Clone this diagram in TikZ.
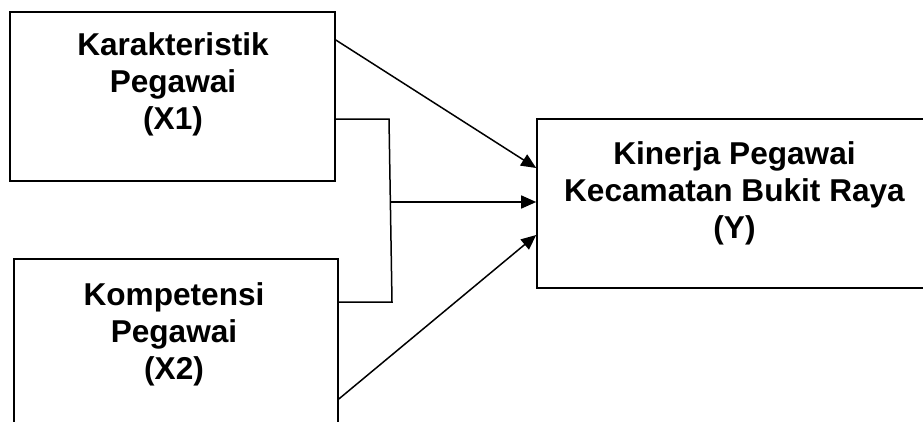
\documentclass[tikz,border=0pt]{standalone}
\usepackage{fontspec}
\setmainfont{Liberation Sans}
\usetikzlibrary{arrows.meta}
\tikzset{
  box/.style={draw, line width=1.6pt, inner sep=0pt, minimum height=169pt},
  lbl/.style={align=center, anchor=north, inner sep=0pt, font=\fontsize{31.6}{37}\selectfont\bfseries},
  conn/.style={line width=1.5pt},
  arr/.style={line width=1.5pt, -{Triangle[length=15pt,width=13pt]}}
}
\begin{document}
\begin{tikzpicture}[x=1pt,y=-1pt]
\useasboundingbox (0,0) rectangle (923,421);
\clip (0,0) rectangle (923,421);
\fill[white] (0,0) rectangle (923,421);
% boxes
\node[box, minimum width=325pt] (x1) at (172.5,96.5) {};
\node[box, minimum width=324pt] (x2) at (176,343.5) {};
\node[box, minimum width=394pt] (y) at (734,203.5) {};
% labels
\node[lbl] (t1) at (173,32.5) {Karakteristik\\Pegawai\\(X1)};
\node[lbl] (t2) at (174,282.5) {Kompetensi\\Pegawai\\(X2)};
\node[lbl] (ty) at (734.5,141.5) {Kinerja Pegawai\\Kecamatan Bukit Raya\\(Y)};
% connectors
\coordinate (bt) at (389,119);
\coordinate (bb) at (392,302);
\coordinate (bm) at (390.4,202);
\draw[arr] ([yshift=56.5pt]x1.east) -- ([yshift=35.5pt]y.west);
\draw[conn] ([yshift=-22.5pt]x1.east) -- (bt) -- (bb) -- ([yshift=41.5pt]x2.east);
\draw[arr] (bm) -- ([yshift=1.5pt]y.west);
\draw[arr] ([yshift=-55.5pt]x2.east) -- ([yshift=-31.5pt]y.west);
\end{tikzpicture}
\end{document}
